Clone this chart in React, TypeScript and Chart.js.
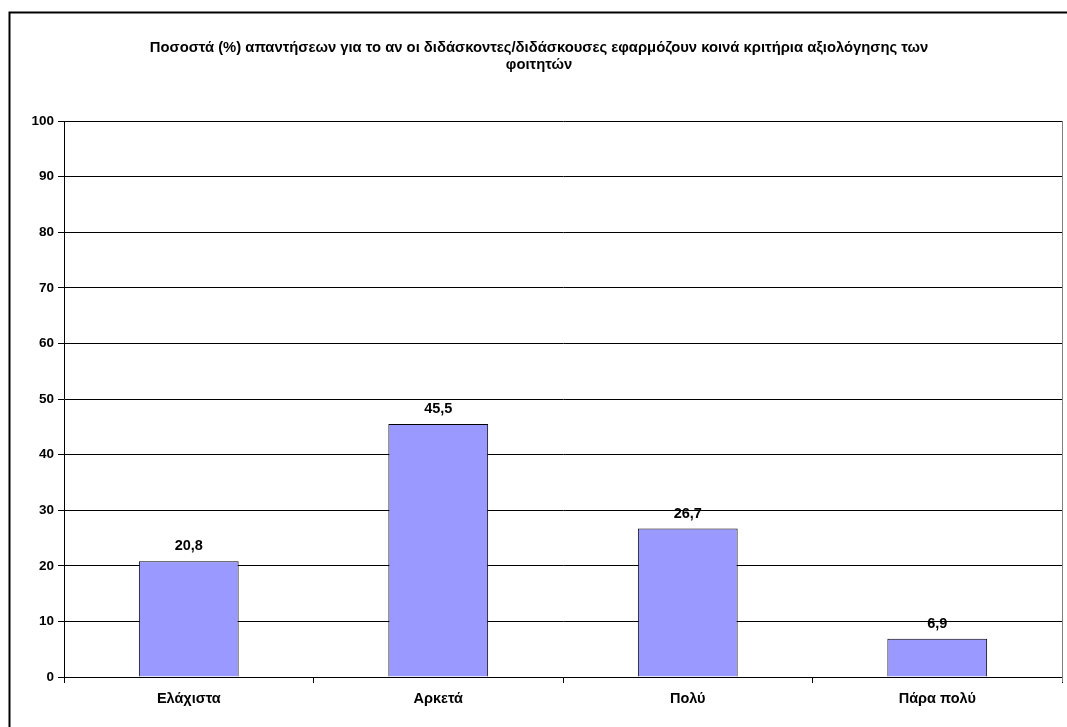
import React, { useEffect, useRef } from "react";
import { Chart, registerables } from "chart.js";

Chart.register(...registerables);

const titleLines = [
  "Ποσοστά (%) απαντήσεων για το αν οι διδάσκοντες/διδάσκουσες εφαρμόζουν κοινά κριτήρια αξιολόγησης των",
  "φοιτητών",
];
const categories = ["Ελάχιστα", "Αρκετά", "Πολύ", "Πάρα πολύ"];
const values = [20.8, 45.5, 26.7, 6.9];
const valueLabels = ["20,8", "45,5", "26,7", "6,9"];
const yMin = 0;
const yMax = 100;
const yStep = 10;

const FONT = "'Liberation Sans', Arial, sans-serif";

export default function App() {
  const ref = useRef<HTMLCanvasElement | null>(null);

  useEffect(() => {
    if (!ref.current) return;
    const decor = {
      id: "decor",
      beforeDraw(chart: any) {
        const ctx = chart.ctx;
        ctx.save();
        ctx.fillStyle = "#ffffff";
        ctx.fillRect(0, 0, chart.width, chart.height);
        ctx.strokeStyle = "#000000";
        ctx.lineWidth = 2;
        ctx.beginPath();
        ctx.moveTo(1.5, chart.height + 5);
        ctx.lineTo(1.5, 1.5);
        ctx.lineTo(chart.width + 5, 1.5);
        ctx.stroke();
        ctx.fillStyle = "#000000";
        ctx.font = `bold 14.8px ${FONT}`;
        ctx.textAlign = "center";
        ctx.textBaseline = "middle";
        ctx.fillText(titleLines[0], 531, 37);
        ctx.fillText(titleLines[1], 531, 54);
        ctx.restore();
      },
      afterDatasetsDraw(chart: any) {
        const ctx = chart.ctx;
        const area = chart.chartArea;
        ctx.save();
        ctx.strokeStyle = "#808080";
        ctx.lineWidth = 1;
        ctx.beginPath();
        ctx.moveTo(Math.round(area.right) + 0.5, area.top);
        ctx.lineTo(Math.round(area.right) + 0.5, area.bottom + 5);
        ctx.stroke();
        const meta = chart.getDatasetMeta(0);
        ctx.fillStyle = "#000000";
        ctx.font = `bold 14.5px ${FONT}`;
        ctx.textAlign = "center";
        ctx.textBaseline = "middle";
        meta.data.forEach((bar: any, i: number) => {
          ctx.fillText(valueLabels[i], bar.x, bar.y - 15);
        });
        ctx.restore();
      },
    };

    const chart = new Chart(ref.current, {
      type: "bar",
      data: {
        labels: categories,
        datasets: [
          {
            data: values,
            backgroundColor: "#9999FF",
            borderColor: "#000000",
            borderWidth: 1,
            barPercentage: 0.4,
            categoryPercentage: 1,
          },
        ],
      },
      options: {
        animation: false,
        responsive: false,
        maintainAspectRatio: false,
        events: [],
        layout: { padding: { top: 110, left: 0, right: 16, bottom: 0 } },
        plugins: {
          legend: { display: false },
          title: { display: false },
          tooltip: { enabled: false },
        },
        scales: {
          x: {
            offset: true,
            grid: {
              offset: true,
              drawOnChartArea: false,
              drawTicks: true,
              tickLength: 6,
              color: "#000000",
            },
            border: { color: "#000000", width: 1 },
            ticks: {
              color: "#000000",
              font: { family: FONT, size: 14.5, weight: "bold" },
              padding: 7,
              maxRotation: 0,
            },
            afterFit(scale: any) {
              scale.height = 74;
            },
          },
          y: {
            min: yMin,
            max: yMax,
            grid: {
              color: "#000000",
              tickLength: 6,
              lineWidth: 1,
            },
            border: { color: "#000000", width: 1 },
            ticks: {
              stepSize: yStep,
              color: "#000000",
              font: { family: FONT, size: 13.5, weight: "bold" },
              padding: 4,
            },
            afterFit(scale: any) {
              scale.width = 56;
            },
          },
        },
      },
      plugins: [decor],
    });
    return () => chart.destroy();
  }, []);

  return (
    <div
      style={{
        position: "absolute",
        left: 0,
        top: 0,
        width: 1067,
        height: 727,
        overflow: "hidden",
        background: "#ffffff",
      }}
    >
      <canvas
        ref={ref}
        width={1070}
        height={740}
        style={{ position: "absolute", left: 8, top: 11, width: 1070, height: 740 }}
      />
    </div>
  );
}
